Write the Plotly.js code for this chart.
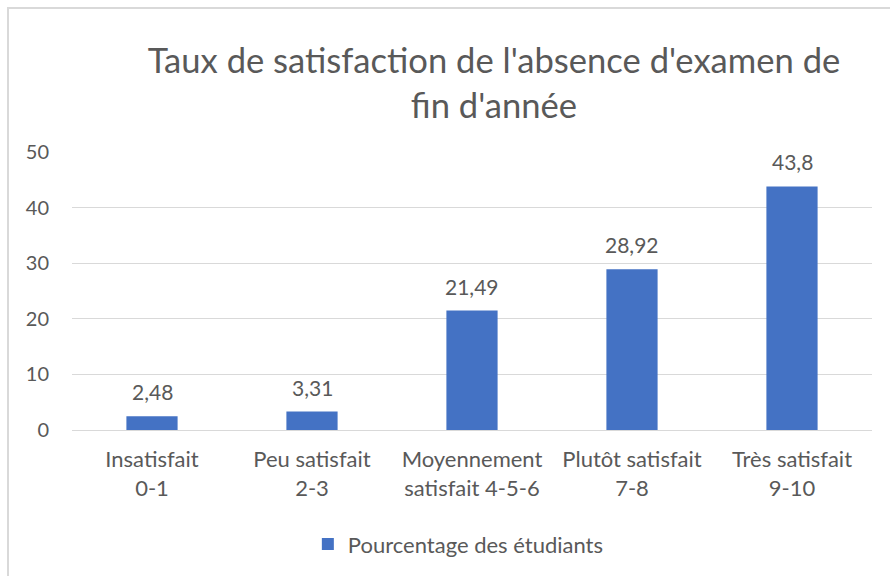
<!DOCTYPE html>
<html>
<head>
<meta charset="utf-8">
<script src="https://cdn.plot.ly/plotly-3.0.1.min.js"></script>
<style>
html,body{margin:0;padding:0;background:#fff;}
#chart{width:890px;height:576px;position:relative;}
#frame{position:absolute;left:7px;top:7px;width:900px;height:600px;border:2px solid #d9d9d9;box-sizing:border-box;pointer-events:none;}
</style>
</head>
<body>
<div id="chart"></div>
<div id="frame"></div>
<script>
const categories = ["Insatisfait<br>0-1", "Peu satisfait<br>2-3", "Moyennement<br>satisfait 4-5-6", "Plutôt satisfait<br>7-8", "Très satisfait<br>9-10"];
const values = [2.48, 3.31, 21.49, 28.92, 43.8];
const seriesName = "Pourcentage des étudiants";
const tickVals = [0, 10, 20, 30, 40, 50];

const font = "Lato, 'Open Sans', sans-serif";
const textColor = "#595959";

const trace = {
  type: "bar",
  x: categories,
  y: values,
  name: seriesName,
  marker: {color: "#4472C4"},
  width: 0.32,
  hoverinfo: "none"
};

const labels = values.map((v, i) => ({
  x: categories[i], y: v, xref: "x", yref: "y",
  text: String(v).replace(".", ","),
  showarrow: false, yanchor: "bottom", yshift: 10,
  font: {family: font, size: 21, color: textColor}
}));

const layout = {
  width: 890,
  height: 576,
  margin: {l: 72, r: 18, t: 152, b: 146},
  paper_bgcolor: "#fff",
  plot_bgcolor: "#fff",
  font: {family: font, color: textColor},
  title: {
    text: "Taux de satisfaction de l'absence d'examen de<br>fin d'année",
    font: {family: font, size: 34.6, color: textColor},
    x: 0.555, xref: "container", xanchor: "center",
    y: 0.874, yref: "container", yanchor: "middle"
  },
  xaxis: {
    type: "category",
    tickfont: {family: font, size: 22, color: textColor},
    showline: true, linecolor: "#d9d9d9", linewidth: 1,
    ticks: "", showgrid: false, fixedrange: true,
    ticklabelstandoff: 10
  },
  yaxis: {
    range: [0, 50],
    tickvals: tickVals,
    tickfont: {family: font, size: 20, color: textColor},
    gridcolor: "#d9d9d9", gridwidth: 1,
    zeroline: false, showline: false, ticks: "",
    ticklen: 0, ticklabelstandoff: 22, fixedrange: true
  },
  annotations: labels,
  showlegend: true,
  legend: {
    orientation: "h",
    x: 0.515, xanchor: "center", xref: "container",
    y: 0.055, yanchor: "middle", yref: "container",
    font: {family: font, size: 22, color: textColor},
    itemwidth: 30
  },
  bargap: 0.68
};

Plotly.newPlot("chart", [trace], layout, {displayModeBar: false, staticPlot: true});
</script>
</body>
</html>
